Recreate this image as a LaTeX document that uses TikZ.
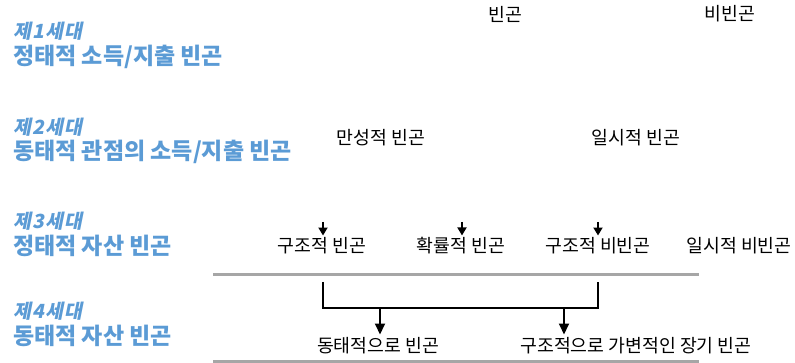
\documentclass[tikz,border=0pt]{standalone}
\usepackage{fontspec}
\usetikzlibrary{arrows.meta}
\newfontfamily\kr{Noto Sans CJK KR}
\newfontfamily\krgen[FakeSlant=0.2,LetterSpace=6]{Noto Sans CJK KR}
\definecolor{tblue}{HTML}{5B9BD5}
\definecolor{lgray}{HTML}{A6A6A6}
\tikzset{
  gen/.style={anchor=west,inner sep=0pt,text=tblue,font=\krgen\bfseries\fontsize{19.5pt}{22pt}\selectfont},
  ttl/.style={anchor=west,inner sep=0pt,text=tblue,font=\kr\bfseries\fontsize{23pt}{26pt}\selectfont},
  lbl/.style={inner sep=0pt,text=black,font=\kr\fontsize{18.3pt}{22pt}\selectfont},
  sarrow/.style={line width=1.8pt,-{Triangle[width=9pt,length=8pt]}},
  barrow/.style={line width=1.8pt,-{Triangle[width=10pt,length=11pt]}},
  brk/.style={line width=1.8pt},
  rule/.style={line width=3pt,lgray}
}
\begin{document}
\begin{tikzpicture}[x=1pt,y=-1pt]
\useasboundingbox (0,0) rectangle (795,363);
% generation titles
\node[gen] (g1) at (13,31) {제1세대};
\node[ttl] (t1) at (13,57) {정태적 소득/지출 빈곤};
\node[gen] (g2) at (13,127) {제2세대};
\node[ttl] (t2) at (13,152) {동태적 관점의 소득/지출 빈곤};
\node[gen] (g3) at (13,221) {제3세대};
\node[ttl] (t3) at (13,246) {정태적 자산 빈곤};
\node[gen] (g4) at (13,311) {제4세대};
\node[ttl] (t4) at (13,336) {동태적 자산 빈곤};
% row 1
\node[lbl] (r1a) at (505,14) {빈곤};
\node[lbl] (r1b) at (730,14) {비빈곤};
% row 2
\node[lbl] (r2a) at (381,138) {만성적 빈곤};
\node[lbl] (r2b) at (636,138) {일시적 빈곤};
% row 3
\node[lbl] (r3a) at (322,246) {구조적 빈곤};
\node[lbl] (r3b) at (461,246) {확률적 빈곤};
\node[lbl] (r3c) at (598,246) {구조적 비빈곤};
\node[lbl] (r3d) at (739,246) {일시적 비빈곤};
\coordinate (s3a) at (323,222);
\coordinate (s3b) at (462,222);
\coordinate (s3c) at (598,222);
\draw[sarrow] (s3a) -- ([yshift=2pt]s3a |- r3a.north);
\draw[sarrow] (s3b) -- ([yshift=2pt]s3b |- r3b.north);
\draw[sarrow] (s3c) -- ([yshift=2pt]s3c |- r3c.north);
% rules
\coordinate (ruleA1) at (213,275);
\coordinate (ruleA2) at (699,275);
\coordinate (ruleB1) at (213,361);
\coordinate (ruleB2) at (699,361);
\draw[rule] (ruleA1) -- (ruleA2);
\draw[rule] (ruleB1) -- (ruleB2);
% row 4
\node[lbl] (r4a) at (378,346) {동태적으로 빈곤};
\node[lbl] (r4b) at (636,346) {구조적으로 가변적인 장기 빈곤};
\coordinate (bl) at (323,282);
\coordinate (br) at (598,282);
\coordinate (bh) at (0,308);
\draw[brk] (bl) -- (bl |- bh) -- (br |- bh) -- (br);
\coordinate (d1) at (380,308);
\coordinate (d2) at (564,308);
\draw[barrow] (d1) -- ([yshift=3pt]d1 |- r4a.north);
\draw[barrow] (d2) -- ([yshift=3pt]d2 |- r4b.north);
\end{tikzpicture}
\end{document}
